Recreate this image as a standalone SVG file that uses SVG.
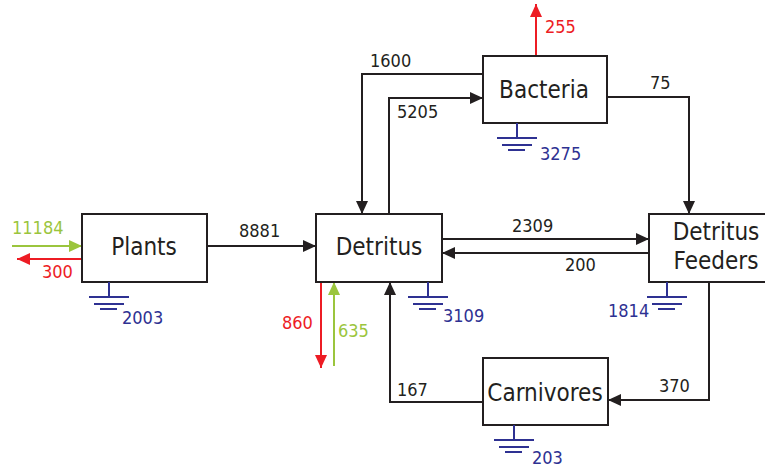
<svg xmlns="http://www.w3.org/2000/svg" xmlns:xlink="http://www.w3.org/1999/xlink" width="765" height="471" viewBox="0 0 765 471">
<style>
.box{fill:#fff;stroke:#231f20;stroke-width:2}
.lbl{font-family:"DejaVu Sans Condensed","DejaVu Sans","Liberation Sans",sans-serif;font-size:24px;fill:#231f20;text-anchor:middle}
.num{font-family:"DejaVu Sans Condensed","DejaVu Sans","Liberation Sans",sans-serif;font-size:18px}
.k{fill:#231f20}.r{fill:#ed1c24}.g{fill:#9bc53d}.b{fill:#2e3192}
.ln{fill:none;stroke:#231f20;stroke-width:2}
.lr{fill:none;stroke:#ed1c24;stroke-width:2}
.lg{fill:none;stroke:#9bc53d;stroke-width:2}
.gnd{stroke:#2e3192;stroke-width:2;fill:none}
</style>
<defs>
<marker id="ak" markerUnits="userSpaceOnUse" markerWidth="13" markerHeight="12" refX="13" refY="6" orient="auto"><path d="M0,0L13,6L0,12z" fill="#231f20"/></marker>
<marker id="ar" markerUnits="userSpaceOnUse" markerWidth="13" markerHeight="12" refX="13" refY="6" orient="auto"><path d="M0,0L13,6L0,12z" fill="#ed1c24"/></marker>
<marker id="ag" markerUnits="userSpaceOnUse" markerWidth="13" markerHeight="12" refX="13" refY="6" orient="auto"><path d="M0,0L13,6L0,12z" fill="#9bc53d"/></marker>
<g id="ground" class="gnd"><path d="M0,0V15M-20,15H20M-15,22H15M-9,27H8"/></g>
</defs>
<g id="connectors">
<path class="ln" d="M207,246H316" marker-end="url(#ak)"/>
<path class="lg" d="M12,246H82" marker-end="url(#ag)"/>
<path class="lr" d="M82,259H17" marker-end="url(#ar)"/>
<path class="lr" d="M536,56V4" marker-end="url(#ar)"/>
<path class="ln" d="M483,74H362V214" marker-end="url(#ak)"/>
<path class="ln" d="M389,214V98H483" marker-end="url(#ak)"/>
<path class="ln" d="M607,97H689V214" marker-end="url(#ak)"/>
<path class="ln" d="M442,239H649" marker-end="url(#ak)"/>
<path class="ln" d="M649,253H442" marker-end="url(#ak)"/>
<path class="lr" d="M321,282V368" marker-end="url(#ar)"/>
<path class="lg" d="M334,366V282" marker-end="url(#ag)"/>
<path class="ln" d="M483,402H390V282" marker-end="url(#ak)"/>
<path class="ln" d="M709,282V400H608" marker-end="url(#ak)"/>
<text class="num k" x="239" y="237">8881</text>
<text class="num g" x="12" y="234">11184</text>
<text class="num r" x="42" y="278">300</text>
<text class="num r" x="545" y="33">255</text>
<text class="num k" x="370" y="67">1600</text>
<text class="num k" x="397" y="118">5205</text>
<text class="num k" x="650" y="89">75</text>
<text class="num k" x="512" y="232">2309</text>
<text class="num k" x="565" y="271">200</text>
<text class="num r" x="282" y="329">860</text>
<text class="num g" x="338" y="337">635</text>
<text class="num k" x="397" y="396">167</text>
<text class="num k" x="659" y="392">370</text>
</g>
<g id="plants">
<rect class="box" x="82" y="214" width="125" height="68"/>
<text class="lbl" x="144" y="255">Plants</text>
<use href="#ground" xlink:href="#ground" x="109" y="282"/>
<text class="num b" x="122" y="324">2003</text>
</g>
<g id="detritus">
<rect class="box" x="316" y="214" width="126" height="68"/>
<text class="lbl" x="379" y="255">Detritus</text>
<use href="#ground" xlink:href="#ground" x="428" y="282"/>
<text class="num b" x="443" y="322">3109</text>
</g>
<g id="bacteria">
<rect class="box" x="483" y="56" width="124" height="67"/>
<text class="lbl" x="544" y="98">Bacteria</text>
<use href="#ground" xlink:href="#ground" x="517" y="123"/>
<text class="num b" x="540" y="160">3275</text>
</g>
<g id="detritus-feeders">
<rect class="box" x="649" y="214" width="135" height="68"/>
<text class="lbl" x="716" y="240">Detritus</text>
<text class="lbl" x="716" y="269">Feeders</text>
<use href="#ground" xlink:href="#ground" x="667" y="282"/>
<text class="num b" x="608" y="317">1814</text>
</g>
<g id="carnivores">
<rect class="box" x="483" y="358" width="125" height="67"/>
<text class="lbl" x="545" y="401">Carnivores</text>
<use href="#ground" xlink:href="#ground" x="514" y="425"/>
<text class="num b" x="532" y="464">203</text>
</g>
</svg>
